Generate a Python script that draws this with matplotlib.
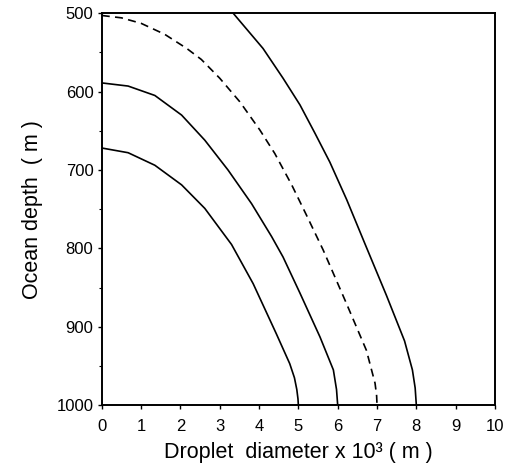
import matplotlib
matplotlib.use("Agg")
import matplotlib.pyplot as plt
from matplotlib.ticker import MultipleLocator

plt.rcParams['font.family'] = ['Liberation Sans', 'DejaVu Sans']

# Droplet diameter (x 10^3 m) against ocean depth (m) for each curve
d1_x = [0.0, 0.67, 1.35, 2.03, 2.62, 3.3, 3.85, 4.44, 4.78, 4.90, 4.96, 4.99, 5.0]
d1_z = [672, 678, 694, 719, 749, 795, 845, 909, 947, 965, 980, 992, 1000]

d2_x = [0.0, 0.67, 1.35, 2.03, 2.62, 3.21, 3.81, 4.32, 4.61, 5.04, 5.55, 5.89, 5.97, 6.0]
d2_z = [589, 593, 605, 630, 662, 700, 743, 785, 811, 857, 913, 955, 980, 1000]

d3_x = [0.0, 0.5, 1.0, 1.6, 2.16, 2.53, 3.0, 3.51, 4.02, 4.40, 4.83, 5.2, 5.63,
        6.22, 6.73, 6.95, 6.99, 7.0]
d3_z = [503, 506, 513, 527, 545, 559, 583, 613, 649, 679, 719, 757, 802,
        870, 930, 972, 988, 1000]

d4_x = [3.34, 4.10, 4.61, 5.04, 5.42, 5.8, 6.23, 6.7, 7.24, 7.7, 7.9, 7.97, 8.0]
d4_z = [500, 545, 583, 617, 653, 690, 738, 795, 860, 918, 955, 978, 1000]

fig = plt.figure(figsize=(5.14, 4.69), dpi=100)
ax = fig.add_axes([0.198, 0.136, 0.765, 0.836])

lw = 1.2
ax.plot(d1_x, d1_z, color='black', lw=lw)
ax.plot(d2_x, d2_z, color='black', lw=lw)
ax.plot(d3_x, d3_z, color='black', lw=lw, dashes=(4.8, 3.2))
ax.plot(d4_x, d4_z, color='black', lw=lw)

ax.set_xlim(0, 10)
ax.set_ylim(1000, 500)
ax.xaxis.set_major_locator(MultipleLocator(1))
ax.yaxis.set_major_locator(MultipleLocator(100))
ax.yaxis.set_minor_locator(MultipleLocator(50))

ax.tick_params(axis='x', which='major', direction='out', length=3, width=1,
               labelsize=12, pad=7)
ax.tick_params(axis='y', which='major', direction='out', length=3, width=1,
               labelsize=12, pad=3)
ax.tick_params(axis='y', which='minor', direction='out', length=2, width=0.8)

for sp in ax.spines.values():
    sp.set_linewidth(1.4)

ax.set_xlabel("Droplet  diameter x 10³ ( m )", fontsize=15.5, labelpad=6)
ax.set_ylabel("Ocean depth  ( m )", fontsize=15.5, labelpad=10)

fig.savefig("out.png", dpi=100)
